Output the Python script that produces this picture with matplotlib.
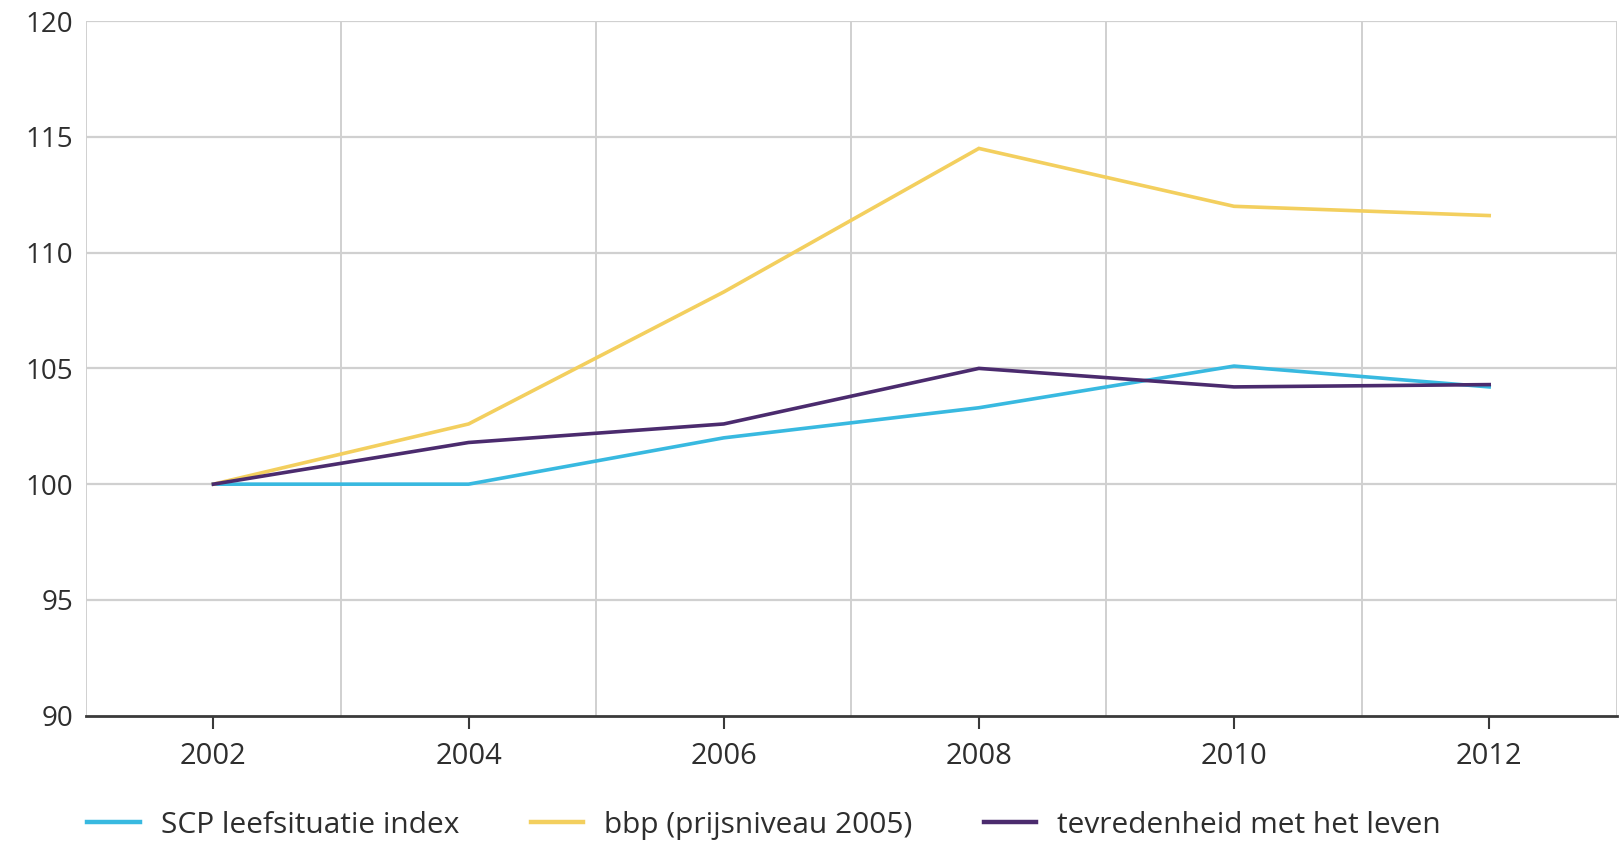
import numpy as np
import matplotlib.pyplot as plt
from matplotlib.lines import Line2D

# Jaren en indexwaarden (2002 = 100)
years = [2002, 2004, 2006, 2008, 2010, 2012]
scp = [100.0, 100.0, 102.0, 103.3, 105.1, 104.2]
bbp = [100.0, 102.6, 108.3, 114.5, 112.0, 111.6]
tevredenheid = [100.0, 101.8, 102.6, 105.0, 104.2, 104.3]

labels = ['SCP leefsituatie index', 'bbp (prijsniveau 2005)', 'tevredenheid met het leven']
colors = ['#38b9e0', '#f3cf5e', '#4b2b6e']

x_ticks = [2002, 2004, 2006, 2008, 2010, 2012]
y_ticks = [90, 95, 100, 105, 110, 115, 120]

plt.rcParams['font.family'] = ['Open Sans', 'DejaVu Sans']

fig = plt.figure(figsize=(16.2, 8.43), dpi=100)
ax = fig.add_axes([0.053, 0.151, 0.945, 0.824])

# Raster: horizontale lijnen per 5, verticale lijnen op oneven jaren
for yv in y_ticks[1:]:
    ax.axhline(yv, color='#d0d0d0', lw=1.6, zorder=0)
for xv in range(2001, 2014, 2):
    ax.axvline(xv, color='#d0d0d0', lw=1.4, zorder=0)

series = [scp, bbp, tevredenheid]
for vals, col, lab in zip(series, colors, labels):
    ax.plot(years, vals, color=col, lw=2.6, label=lab, solid_joinstyle='miter', zorder=3)

ax.set_xlim(2001, 2013)
ax.set_ylim(90, 120)
ax.set_xticks(x_ticks)
ax.set_yticks(y_ticks)
ax.set_xticklabels([str(t) for t in x_ticks], fontsize=21, color='#2e2e2e')
ax.set_yticklabels([str(t) for t in y_ticks], fontsize=20, color='#2e2e2e')

for side in ['top', 'right', 'left']:
    ax.spines[side].set_visible(False)
ax.spines['bottom'].set_color('#3a3a3a')
ax.spines['bottom'].set_linewidth(2)

ax.tick_params(axis='x', direction='out', length=9, width=1.5, color='#3a3a3a', pad=10)
ax.tick_params(axis='y', length=0, pad=9)

handles = [Line2D([0], [0], color=c, lw=3.2) for c in colors]
fig.legend(handles, labels, loc='lower left', bbox_to_anchor=(0.054, 0.004), ncol=3,
           frameon=False, fontsize=21.5, handlelength=1.75, handletextpad=0.7,
           columnspacing=2.4, labelcolor='#2e2e2e', borderpad=0, borderaxespad=0)

plt.savefig('out.png', dpi=100)
